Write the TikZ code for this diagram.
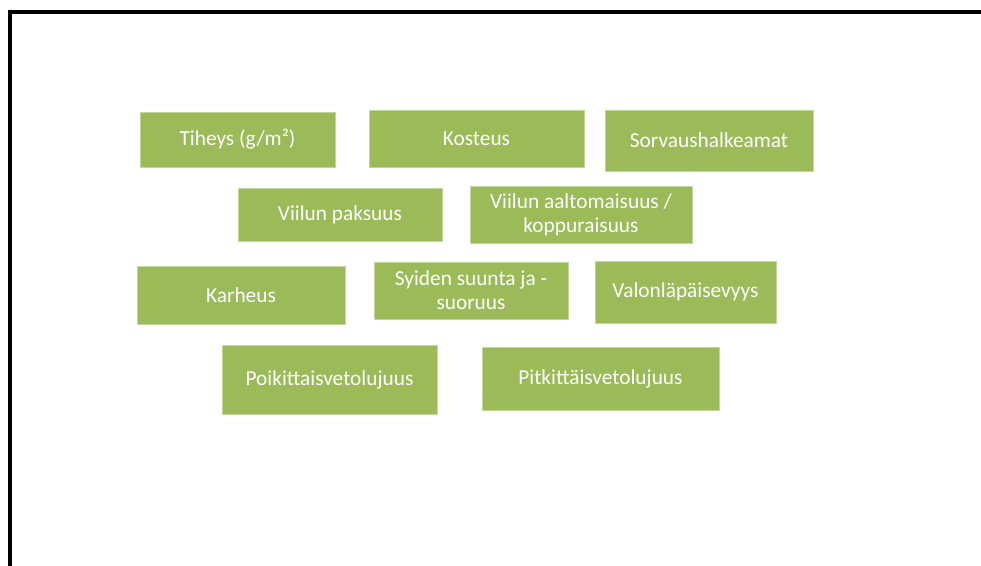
\documentclass[tikz,border=0pt]{standalone}
\usepackage{fontspec}
\setmainfont{Carlito}
\definecolor{boxgreen}{HTML}{9BBB59}
\definecolor{boxedge}{HTML}{C3D69B}
\begin{document}
\begin{tikzpicture}[x=0.75pt,y=-0.75pt,
  box/.style={rectangle, fill=boxgreen, draw=boxedge, line width=0.4pt,
    text=white, font=\fontsize{16}{18.2}\selectfont, align=center, inner sep=0pt},
  frame/.style={line width=3pt, black, line join=miter}]
\useasboundingbox (0,0) rectangle (981,566);
\draw[frame] (981,12) -- (10,12) -- (10,566);
\node[box, minimum width=195*0.75pt, minimum height=55*0.75pt] (tih) at (237.5,139.5) {Tiheys (g/m²)};
\node[box, minimum width=215*0.75pt, minimum height=57*0.75pt] (kos) at (476.5,138.5) {Kosteus};
\node[box, minimum width=208*0.75pt, minimum height=61*0.75pt] (sor) at (709,140.5) {Sorvaushalkeamat};
\node[box, minimum width=204*0.75pt, minimum height=53*0.75pt] (vpa) at (340,214.5) {Viilun paksuus};
\node[box, minimum width=222*0.75pt, minimum height=57*0.75pt] (vaa) at (581,214.5) {Viilun aaltomaisuus /\\koppuraisuus};
\node[box, minimum width=208*0.75pt, minimum height=58*0.75pt] (kar) at (241,295) {Karheus};
\node[box, minimum width=194*0.75pt, minimum height=57*0.75pt] (syi) at (471,290.5) {Syiden suunta ja -\\suoruus};
\node[box, minimum width=181*0.75pt, minimum height=62*0.75pt] (val) at (685.5,292) {Valonläpäisevyys};
\node[box, minimum width=215*0.75pt, minimum height=69*0.75pt] (poi) at (329.5,379.5) {Poikittaisvetolujuus};
\node[box, minimum width=237*0.75pt, minimum height=63*0.75pt] (pit) at (600.5,378.5) {Pitkittäisvetolujuus};
\end{tikzpicture}
\end{document}
